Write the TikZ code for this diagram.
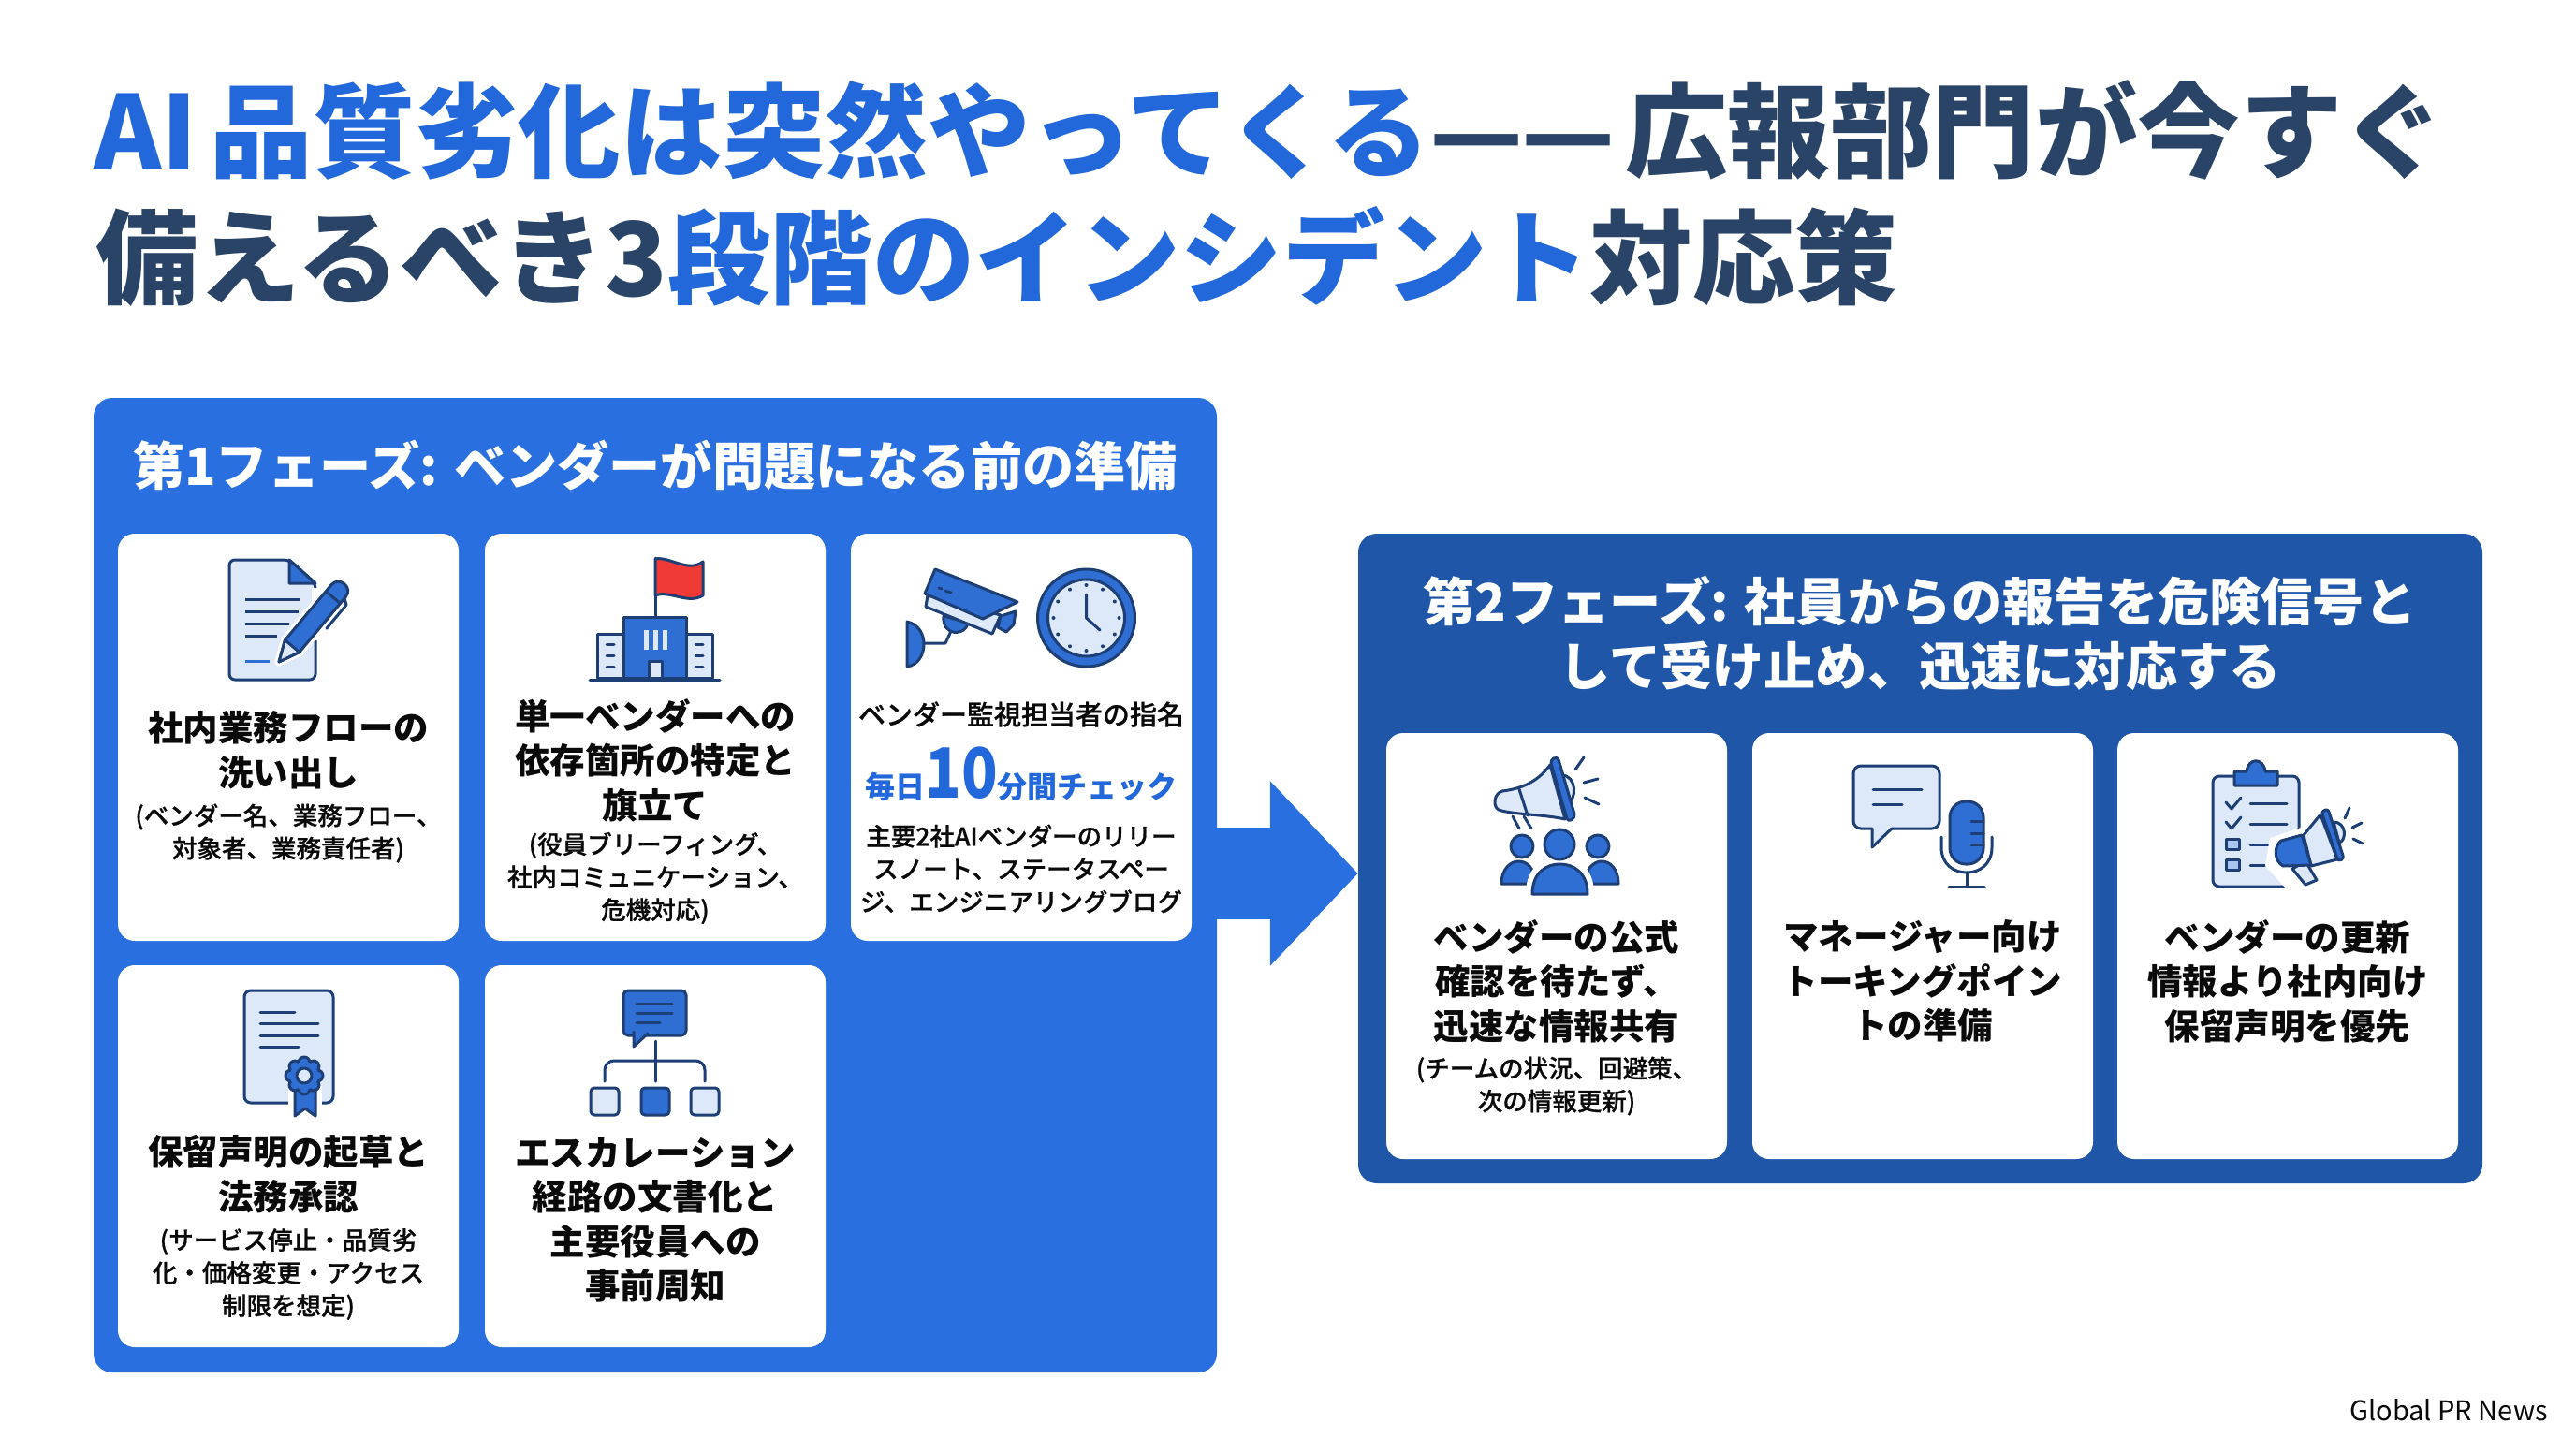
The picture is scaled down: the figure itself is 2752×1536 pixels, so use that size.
\documentclass[tikz,border=0pt]{standalone}
\usepackage{fontspec}
\usepackage{graphicx}
\usetikzlibrary{arrows.meta,calc}
\setmainfont{Noto Sans CJK JP}
\newfontfamily\jpmed[FakeBold=0.7]{Noto Sans CJK JP Medium}
\definecolor{tblue}{HTML}{2268DA}
\definecolor{tnavy}{HTML}{2A4468}
\definecolor{pone}{HTML}{2A6FDF}
\definecolor{ptwo}{HTML}{2056A8}
\definecolor{idark}{HTML}{1D3F75}
\definecolor{iblue}{HTML}{2F6ED3}
\definecolor{ilight}{HTML}{DDE9F9}
\definecolor{ired}{HTML}{F03A35}
\definecolor{inkk}{HTML}{0A0A0A}
\tikzset{
  panel/.style={fill=#1,rounded corners=20pt,inner sep=0pt,draw=none},
  card/.style={fill=white,rounded corners=18pt,inner sep=0pt,minimum width=364pt},
  head/.style={inner sep=0pt,align=center,text=inkk,font=\bfseries\fontsize{37.5}{47.5}\selectfont},
  subt/.style={inner sep=0pt,align=center,text=inkk,font=\jpmed\fontsize{26.5}{35}\selectfont},
  ptitle/.style={inner sep=0pt,align=center,text=white,font=\bfseries\fontsize{55.2}{69}\selectfont},
  ttl/.style={inner sep=0pt,anchor=base west},
  il/.style={draw=idark,line width=3pt,line join=round,line cap=round},
  ib/.style={il,fill=iblue},
  ilf/.style={il,fill=ilight},
}
\begin{document}
\begin{tikzpicture}[x=1pt,y=-1pt]
\useasboundingbox (0,0) rectangle (2752,1536);
\fill[white] (0,0) rectangle (2752,1536);
% title
\node[ttl,font=\bfseries\fontsize{109.5}{120}\selectfont] (title1) at (100,182) {\textcolor{tblue}{AI\kern14pt 品質劣化は突然やってくる}\textcolor{tnavy}{—\kern-3pt —\kern11pt 広報部門が今すぐ}};
\node[ttl,font=\bfseries\fontsize{109.5}{120}\selectfont] (title2) at (102,316) {\textcolor{tnavy}{備えるべき3}\textcolor{tblue}{段階のインシデント}\textcolor{tnavy}{対応策}};
% panels
\node[panel=pone,minimum width=1200pt,minimum height=1041pt] (p1) at (700,945.5) {};
\node[panel=ptwo,minimum width=1201pt,minimum height=694pt] (p2) at (2051.5,917) {};
\coordinate (ay) at (1375,933);
\draw[pone,line width=98pt,-{Triangle[length=94pt,width=192pt]}] (p1.east |- ay) -- (p2.west |- ay);
\node[ptitle] (p1t) at (700,497) {第1フェーズ: ベンダーが問題になる前の準備};
\node[ptitle] (p2t) at (2051,676) {第2フェーズ: 社員からの報告を危険信号と\\して受け止め、迅速に対応する};
% cards
\node[card,minimum height=435pt] (c1) at (308,787.5) {};
\node[card,minimum height=435pt] (c2) at (700,787.5) {};
\node[card,minimum height=435pt] (c3) at (1091,787.5) {};
\node[card,minimum height=408pt] (c4) at (308,1235) {};
\node[card,minimum height=408pt] (c5) at (700,1235) {};
\node[card,minimum height=455pt] (ca) at (1663,1010.5) {};
\node[card,minimum height=455pt] (cb) at (2054,1010.5) {};
\node[card,minimum height=455pt] (cc) at (2444,1010.5) {};
% card text
\node[head] (c1h) at (308,801) {社内業務フローの\\洗い出し};
\node[subt] (c1s) at (308,890) {(ベンダー名、業務フロー、\\対象者、業務責任者)};
\node[head] (c2h) at (700,812) {単一ベンダーへの\\依存箇所の特定と\\旗立て};
\node[subt] (c2s) at (700,938) {(役員ブリーフィング、\\社内コミュニケーション、\\危機対応)};
\node[inner sep=0pt,text=inkk,font=\jpmed\fontsize{29}{36}\selectfont] (c3a) at (1091,763) {ベンダー監視担当者の指名};
\node[inner sep=0pt,anchor=base,text=tblue,font=\bfseries\fontsize{32}{36}\selectfont] (c3b) at (1091,852) {毎日{\fontsize{74}{80}\selectfont\scalebox{0.86}[1]{10}}分間チェック};
\node[subt] (c3c) at (1091,928) {主要2社AIベンダーのリリー\\スノート、ステータスペー\\ジ、エンジニアリングブログ};
\node[head] (c4h) at (308,1254) {保留声明の起草と\\法務承認};
\node[subt] (c4s) at (308,1361) {(サービス停止・品質劣\\化・価格変更・アクセス\\制限を想定)};
\node[head] (c5h) at (700,1303) {エスカレーション\\経路の文書化と\\主要役員への\\事前周知};
\node[head] (cah) at (1663,1048) {ベンダーの公式\\確認を待たず、\\迅速な情報共有};
\node[subt] (cas) at (1663,1160) {(チームの状況、回避策、\\次の情報更新)};
\node[head] (cbh) at (2054,1048) {マネージャー向け\\トーキングポイン\\トの準備};
\node[head] (cch) at (2444,1048) {ベンダーの更新\\情報より社内向け\\保留声明を優先};
\node[inner sep=0pt,anchor=base east,text=inkk,font=\fontsize{29}{34}\selectfont] (foot) at (2722,1517) {Global PR News};
% ---- icon 1: document and pen
\draw[ilf,rounded corners=6pt] (309,598) -- (245,598) -- (245,726) -- (337,726) -- (337,623) -- cycle;
\draw[ib] (309,598) -- (337,623) -- (309,623) -- cycle;
\foreach \yy/\xe in {640/320,653/319,666/309,679/296}
  \draw[idark,line width=3pt] (262,\yy) -- (\xe,\yy);
\draw[iblue,line width=3pt] (262,706) -- (288,706);
\fill[white] (333,628) rectangle (341,684);
\begin{scope}[shift={(298,707)},rotate=50]
  \draw[white,line width=9pt,line join=round] (0,0) -- (22,-10) -- (99,-10) -- (99,10) -- (22,10) -- cycle;
  \draw[ib] (0,0) -- (22,-10) -- (99,-10) .. controls (112,-10) and (112,10) .. (99,10) -- (22,10) -- cycle;
  \draw[ilf] (0,0) -- (22,-10) -- (22,10) -- cycle;
  \draw[il] (90,-10) -- (90,10);
  \draw[il] (60,16) -- (93,16) -- (97,10);
\end{scope}
% ---- icon 2: building and flag
\draw[il] (700,596) -- (700,659);
\draw[il,fill=ired] (700,597) .. controls (715,594) and (735,612) .. (751,600) -- (751,636) .. controls (735,646) and (715,630) .. (700,636) -- cycle;
\draw[ilf] (638,677) rectangle (666,724);
\draw[ilf] (733,677) rectangle (761,724);
\draw[ib] (666,659) rectangle (733,724);
\foreach \xx in {690,700,710} \draw[ilight,line width=5pt] (\xx,673) -- (\xx,694);
\draw[il,fill=ilight] (693,706) rectangle (707,724);
\foreach \yy in {688,700,712} {
  \draw[il] (648,\yy) -- (656,\yy);
  \draw[il] (743,\yy) -- (751,\yy);
}
\draw[il] (630,726) -- (769,726);
% ---- icon 3: camera and clock
\draw[il,fill=iblue] (1160.5,660) circle (52);
\draw[il,fill=ilight] (1160.5,660) circle (41);
\foreach \a in {0,30,...,330}
  \fill[idark] ($(1160.5,660)+(\a:35)$) circle (2);
\draw[il] (1160.5,635) -- (1160.5,660) -- (1175,673);
\draw[ib] (969,664) .. controls (982,667) and (987,678) .. (987,688) .. controls (987,698) and (982,710) .. (969,712) -- cycle;
\draw[il] (987,687) -- (1010,687) -- (1017,672);
\draw[ib] (1008,658) .. controls (1006,680) and (1032,680) .. (1034,665) -- cycle;
\draw[ib] (1066,670) -- (1069,658) -- (1085,653) -- (1083,667) -- (1075,675) -- cycle;
\draw[ilf] (991,636) -- (989,648) -- (1060,677) -- (1069,657) -- cycle;
\draw[ib] (999,608) -- (1087,643) -- (1050,661) -- (988,634) -- cycle;
\draw[il] (1003,628) -- (1006,629);
\draw[il] (1010,631) -- (1016,633);
% ---- icon 4: certificate
\draw[ilf,rounded corners=7pt] (261,1058) rectangle (356,1178);
\foreach \yy/\xe in {1081/315,1093/340,1106/340,1118/319}
  \draw[il] (278,\yy) -- (\xe,\yy);
\fill[white] (308,1160) rectangle (344,1185);
\draw[ib] (315,1160) -- (315,1192) -- (326,1184) -- (337,1192) -- (337,1160) -- cycle;
\foreach \a in {0,45,...,315} \draw[ib] ($(325,1149)+(\a:14)$) circle (6);
\fill[iblue] (325,1149) circle (15);
\draw[il,fill=ilight] (325,1149) circle (8);
% ---- icon 5: escalation
\draw[ib,rounded corners=5pt] (666,1058) rectangle (733,1106);
\draw[ib] (677,1102) -- (677,1118) -- (692,1104);
\fill[iblue] (678.5,1100) rectangle (690,1104.5);
\foreach \yy/\xe in {1072/718,1082/718,1092/705}
  \draw[il] (680,\yy) -- (\xe,\yy);
\draw[il] (700,1112) -- (700,1155);
\draw[il,rounded corners=10pt] (646,1155) -- (646,1133) -- (753,1133) -- (753,1155);
\draw[ilf,rounded corners=4pt] (631,1162) rectangle (661,1191);
\draw[ib,rounded corners=4pt] (685,1162) rectangle (715,1191);
\draw[ilf,rounded corners=4pt] (738,1162) rectangle (768,1191);
% ---- icon a: megaphone and people
\draw[il] (1616,872) -- (1623,885);
\draw[il] (1628,872) -- (1636,885);
\draw[ilf] (1668,828) .. controls (1685,828) and (1685,855) .. (1674,858) -- cycle;
\draw[ilf] (1656,817) .. controls (1645,832) and (1630,842) .. (1605,845) .. controls (1595,848) and (1595,862) .. (1601,865) .. controls (1615,870) and (1650,870) .. (1672,875) -- cycle;
\draw[il] (1623,843) -- (1632,871);
\draw[ib,rounded corners=4pt] (1656,812) -- (1664,808) -- (1683,873) -- (1675,878) -- cycle;
\draw[il] (1692,809) -- (1683,822);
\draw[il] (1707,832) -- (1692,836);
\draw[il] (1708,859) -- (1693,852);
\draw[ib] (1626,904) circle (12);
\draw[ib] (1707,904) circle (12);
\draw[ib] (1604,944) .. controls (1604,928) and (1614,920) .. (1622,920) .. controls (1632,920) and (1640,928) .. (1640,944) -- cycle;
\draw[ib] (1693,944) .. controls (1693,928) and (1703,920) .. (1711,920) .. controls (1720,920) and (1729,928) .. (1729,944) -- cycle;
\fill[white] (1630,955) .. controls (1630,925) and (1650,915) .. (1666.5,915) .. controls (1683,915) and (1703,925) .. (1703,955) -- cycle;
\draw[ib] (1637,955) .. controls (1637,932) and (1652,923) .. (1666.5,923) .. controls (1681,923) and (1696,932) .. (1696,955) -- cycle;
\draw[ib] (1666,902) ellipse (16 and 16);
% ---- icon b: chat and microphone
\draw[ilf,rounded corners=8pt] (2000,885) -- (1980,885) -- (1980,818) -- (2072,818) -- (2072,885) -- (2021,885);
\fill[ilight] (2000,882) -- (2000,904) -- (2021,885) -- cycle;
\draw[il] (2000,885) -- (2000,905) -- (2021,885);
\draw[il] (2001,843) -- (2053,843);
\draw[il] (2001,859) -- (2032,859);
\draw[ib,rounded corners=17pt] (2083,856) rectangle (2119,923);
\foreach \yy in {877,890,902} \draw[il] (2106,\yy) -- (2119,\yy);
\draw[il] (2074,894) -- (2074,905) .. controls (2074,924) and (2088,932) .. (2101,932) .. controls (2114,932) and (2128,924) .. (2128,905) -- (2128,894);
\draw[il] (2101,932) -- (2101,947);
\draw[il] (2082,947) -- (2120,947);
% ---- icon c: clipboard and megaphone
\draw[ilf,rounded corners=7pt] (2364,829) rectangle (2456,947);
\draw[ib] (2400,824) .. controls (2402,809) and (2418,809) .. (2420,824) -- (2433,824) -- (2433,839) -- (2387,839) -- (2387,824) -- cycle;
\foreach \yy in {0,21} \draw[il] (2378,857+\yy) -- (2384,864+\yy) -- (2394,852+\yy);
\draw[il] (2404,858) -- (2443,858);
\draw[il] (2404,880) -- (2443,880);
\draw[il,fill=ilight!70!iblue] (2378,896) rectangle (2392,907);
\draw[il,fill=ilight!70!iblue] (2378,918) rectangle (2392,929);
\draw[il] (2404,902) -- (2423,902);
\draw[il] (2404,924) -- (2426,924);
\fill[white] (2478,860) -- (2458,884) -- (2425,895) -- (2420,925) -- (2445,952) -- (2480,952) -- (2510,925) -- cycle;
\draw[ilf] (2449,928) -- (2463,945) -- (2475,940) -- (2463,920) -- cycle;
\draw[ilf] (2493,878) .. controls (2507,878) and (2507,898) .. (2499,900) -- cycle;
\draw[ilf] (2479,870) -- (2461,892) -- (2469,925) -- (2497,918) -- cycle;
\draw[ib] (2459,892) -- (2437,898) .. controls (2428,905) and (2430,920) .. (2439,925) -- (2469,924) -- cycle;
\draw[ib,rounded corners=3pt] (2480,867) -- (2487,864) -- (2504,917) -- (2498,920) -- cycle;
\draw[il] (2510,863) -- (2505,874);
\draw[il] (2523,879) -- (2513,884);
\draw[il] (2524,901) -- (2514,896);
\end{tikzpicture}
\end{document}
